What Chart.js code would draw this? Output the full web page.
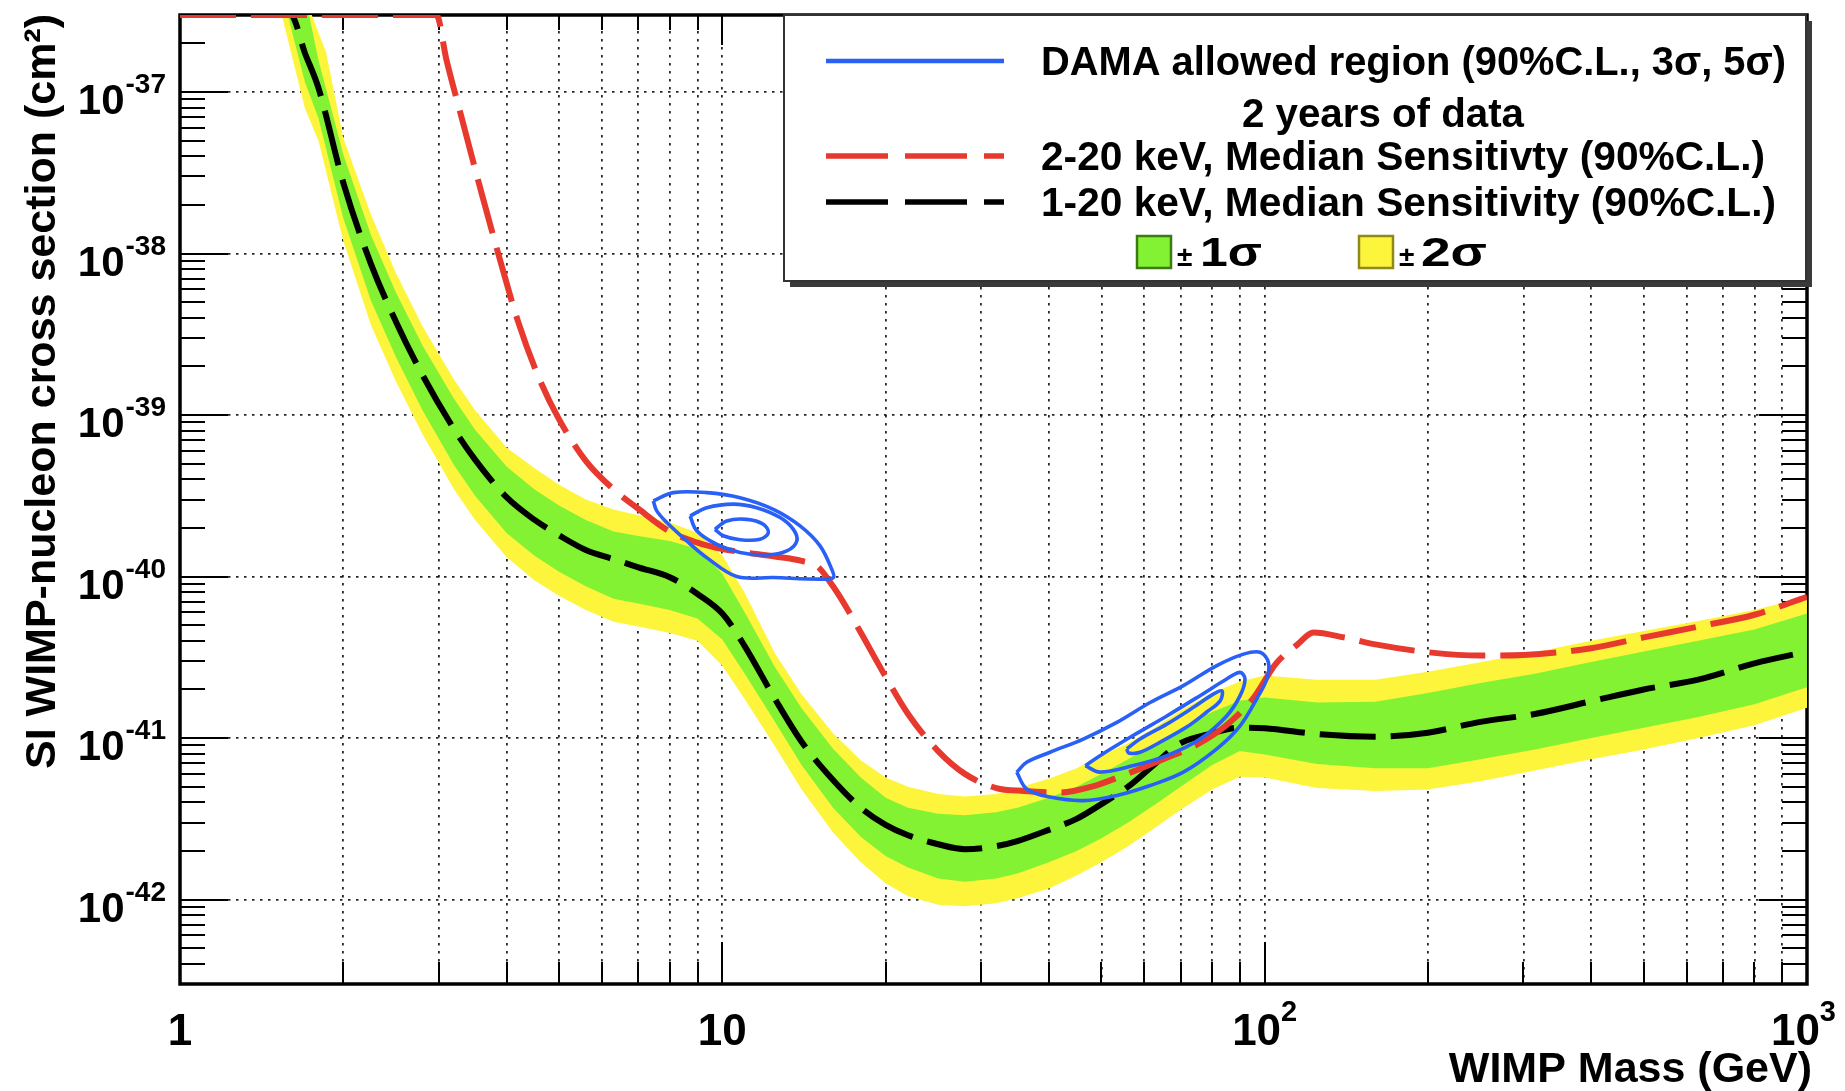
<!DOCTYPE html>
<html>
<head>
<meta charset="utf-8">
<script src="https://cdn.jsdelivr.net/npm/chart.js@4.4.1/dist/chart.umd.min.js"></script>
<style>
html,body{margin:0;padding:0;background:#fff;}
canvas{display:block;}
</style>
</head>
<body>
<canvas id="c" width="1845" height="1091"></canvas>
<script>
// ---------------- DATA (mass in GeV, cross section in cm^2) ----------------
const sens1to20 = [[1,3e-37],[1.6,3e-37],[1.7,1.74e-37],[1.8,1.06e-37],[2.0,2.75e-38],[2.25,8.6e-39],[2.5,3.8e-39],[2.8,1.77e-39],[3.2,8.2e-40],[3.5,5.3e-40],[4.0,3.1e-40],[4.5,2.25e-40],[5.0,1.8e-40],[5.6,1.46e-40],[6.3,1.28e-40],[7.0,1.14e-40],[8.0,9.9e-41],[9.0,7.8e-41],[10,5.9e-41],[11,3.7e-41],[12.5,1.75e-41],[14,9.5e-42],[16,5.5e-42],[18,3.7e-42],[20,2.9e-42],[22,2.5e-42],[25,2.2e-42],[28,2.05e-42],[32,2.14e-42],[35,2.3e-42],[40,2.7e-42],[45,3.16e-42],[50,3.9e-42],[56,5.0e-42],[63,7.0e-42],[70,9.3e-42],[80,1.07e-41],[90,1.16e-41],[100,1.15e-41],[125,1.06e-41],[160,1.02e-41],[200,1.08e-41],[250,1.26e-41],[315,1.41e-41],[400,1.69e-41],[500,2.0e-41],[630,2.3e-41],[800,2.9e-41],[1000,3.43e-41]];

const sens2to20 = [[1,3e-37],[2.97,3e-37],[3.1,1.58e-37],[3.3,7.1e-38],[3.6,2.35e-38],[3.9,8.9e-39],[4.2,3.8e-39],[4.6,1.67e-39],[5.0,9.4e-40],[5.6,5.2e-40],[6.3,3.47e-40],[7.0,2.63e-40],[8.0,1.9e-40],[9.0,1.62e-40],[10,1.48e-40],[11,1.41e-40],[12.5,1.33e-40],[14,1.25e-40],[15,1.15e-40],[16,8.7e-41],[17,6.3e-41],[18,4.5e-41],[20,2.4e-41],[22,1.41e-41],[25,8.3e-42],[28,6.0e-42],[32,4.9e-42],[36,4.7e-42],[42,4.6e-42],[48,5.0e-42],[55,5.9e-42],[65,7.4e-42],[75,9.1e-42],[85,1.2e-41],[95,1.74e-41],[105,2.9e-41],[115,3.8e-41],[123,4.5e-41],[140,4.2e-41],[160,3.8e-41],[200,3.4e-41],[250,3.24e-41],[300,3.27e-41],[400,3.6e-41],[500,4.2e-41],[630,4.9e-41],[800,5.8e-41],[1000,7.5e-41]];

const band2sUpper = [[1.75,3e-37],[1.86,1.75e-37],[2.0,5.2e-38],[2.25,1.74e-38],[2.5,7.6e-39],[2.8,3.55e-39],[3.2,1.66e-39],[3.5,1.07e-39],[4.0,6.3e-40],[4.5,4.7e-40],[5.0,3.7e-40],[5.6,3.0e-40],[6.3,2.6e-40],[7.0,2.4e-40],[8.0,2.16e-40],[9.0,1.86e-40],[10,1.35e-40],[11,7.9e-41],[12.5,3.35e-41],[14,1.87e-41],[16,1.07e-41],[18,7.3e-42],[20,5.7e-42],[22,5.0e-42],[25,4.5e-42],[28,4.35e-42],[32,4.5e-42],[35,4.9e-42],[40,5.6e-42],[45,6.5e-42],[50,7.8e-42],[56,9.3e-42],[63,1.17e-41],[70,1.48e-41],[80,1.9e-41],[90,2.24e-41],[100,2.44e-41],[125,2.3e-41],[160,2.3e-41],[200,2.57e-41],[250,2.95e-41],[315,3.4e-41],[400,4.0e-41],[500,4.6e-41],[630,5.3e-41],[800,6.2e-41],[1000,7.5e-41]];

const band1sUpper = [[1.73,3e-37],[1.8,1.58e-37],[2.0,4.1e-38],[2.25,1.3e-38],[2.5,5.75e-39],[2.8,2.7e-39],[3.2,1.26e-39],[3.5,8.1e-40],[4.0,4.8e-40],[4.5,3.47e-40],[5.0,2.75e-40],[5.6,2.24e-40],[6.3,1.9e-40],[7.0,1.78e-40],[8.0,1.66e-40],[9.0,1.48e-40],[10,1.04e-40],[11,6.0e-41],[12.5,2.75e-41],[14,1.53e-41],[16,8.6e-42],[18,5.7e-42],[20,4.27e-42],[22,3.7e-42],[25,3.4e-42],[28,3.33e-42],[32,3.47e-42],[35,3.7e-42],[40,4.27e-42],[45,5.0e-42],[50,6.0e-42],[56,7.4e-42],[63,9.3e-42],[70,1.15e-41],[80,1.45e-41],[90,1.7e-41],[100,1.78e-41],[125,1.66e-41],[160,1.68e-41],[200,1.9e-41],[250,2.19e-41],[315,2.5e-41],[400,2.96e-41],[500,3.43e-41],[630,4.0e-41],[800,4.7e-41],[1000,5.9e-41]];

const band1sLower = [[1.58,3e-37],[1.7,1.15e-37],[1.8,6.9e-38],[2.0,1.66e-38],[2.25,5.1e-39],[2.5,2.3e-39],[2.8,1.07e-39],[3.2,4.9e-40],[3.5,3.16e-40],[4.0,1.86e-40],[4.5,1.35e-40],[5.0,1.07e-40],[5.6,8.7e-41],[6.3,7.3e-41],[7.0,6.8e-41],[8.0,6.2e-41],[9.0,5.5e-41],[10,4.07e-41],[11,2.5e-41],[12.5,1.26e-41],[14,6.8e-42],[16,3.7e-42],[18,2.45e-42],[20,1.86e-42],[22,1.58e-42],[25,1.35e-42],[28,1.29e-42],[32,1.35e-42],[35,1.45e-42],[40,1.7e-42],[45,2.0e-42],[50,2.4e-42],[56,3.0e-42],[63,3.9e-42],[70,5.0e-42],[80,6.8e-42],[90,8.3e-42],[100,7.9e-42],[125,6.9e-42],[160,6.5e-42],[200,6.5e-42],[250,7.4e-42],[315,8.5e-42],[400,1.0e-41],[500,1.16e-41],[630,1.35e-41],[800,1.62e-41],[1000,2.06e-41]];

const band2sLower = [[1.54,3e-37],[1.7,7.9e-38],[1.8,5.0e-38],[2.0,1.2e-38],[2.25,3.6e-39],[2.5,1.62e-39],[2.8,7.6e-40],[3.2,3.47e-40],[3.5,2.24e-40],[4.0,1.32e-40],[4.5,9.5e-41],[5.0,7.6e-41],[5.6,6.2e-41],[6.3,5.25e-41],[7.0,4.9e-41],[8.0,4.47e-41],[9.0,4.0e-41],[10,2.8e-41],[11,1.74e-41],[12.5,8.9e-42],[14,4.8e-42],[16,2.6e-42],[18,1.7e-42],[20,1.26e-42],[22,1.05e-42],[25,9.3e-43],[28,9.1e-43],[32,9.5e-43],[35,1.02e-42],[40,1.17e-42],[45,1.41e-42],[50,1.7e-42],[56,2.14e-42],[63,2.8e-42],[70,3.6e-42],[80,4.8e-42],[90,5.75e-42],[100,5.7e-42],[125,4.9e-42],[160,4.7e-42],[200,4.8e-42],[250,5.4e-42],[315,6.3e-42],[400,7.4e-42],[500,8.5e-42],[630,1.0e-41],[800,1.2e-41],[1000,1.54e-41]];

// DAMA allowed regions (closed contours): low-mass and high-mass islands
const damaLow5s = [[7.46,2.94e-40],[8.12,3.31e-40],[9.36,3.31e-40],[10.78,3.08e-40],[12.42,2.61e-40],[13.91,2.06e-40],[15.14,1.55e-40],[15.91,1.11e-40],[16.02,9.86e-41],[15.14,9.64e-41],[12.42,9.86e-41],[10.63,1.0e-40],[9.36,1.31e-40],[8.6,1.66e-40],[7.9,2.16e-40],[7.57,2.55e-40],[7.46,2.94e-40]];
const damaLow3s = [[8.72,2.37e-40],[9.36,2.67e-40],[10.48,2.81e-40],[11.57,2.67e-40],[12.78,2.32e-40],[13.52,1.96e-40],[13.72,1.66e-40],[13.15,1.44e-40],[12.08,1.36e-40],[10.78,1.41e-40],[9.77,1.58e-40],[8.97,1.92e-40],[8.72,2.37e-40]];
const damaLow90 = [[9.69,1.96e-40],[10.19,2.21e-40],[11.09,2.26e-40],[11.9,2.11e-40],[12.16,1.87e-40],[11.74,1.70e-40],[10.78,1.69e-40],[10.04,1.79e-40],[9.69,1.96e-40]];
const damaHigh5s = [[34.9,6.15e-42],[36.4,7.08e-42],[40.2,8.17e-42],[46.3,9.86e-42],[53.4,1.25e-41],[61.5,1.66e-41],[70.8,2.11e-41],[81.6,2.81e-41],[91.4,3.31e-41],[98.1,3.40e-41],[101.6,2.94e-41],[100.9,2.32e-41],[96.7,1.75e-41],[90.1,1.19e-41],[81.6,8.57e-42],[70.8,6.15e-42],[61.5,5.08e-42],[53.4,4.41e-42],[46.3,4.10e-42],[40.2,4.31e-42],[36.4,4.84e-42],[34.9,6.15e-42]];
const damaHigh3s = [[46.7,6.75e-42],[49.7,7.78e-42],[57.3,1.04e-41],[66.0,1.37e-41],[76.0,1.83e-41],[85.1,2.32e-41],[90.1,2.55e-41],[92.0,2.32e-41],[90.1,1.83e-41],[85.1,1.37e-41],[76.0,9.86e-42],[66.0,7.78e-42],[57.3,6.75e-42],[49.7,6.15e-42],[46.7,6.75e-42]];
const damaHigh90 = [[55.7,8.57e-42],[58.9,9.86e-42],[66.0,1.22e-41],[73.9,1.55e-41],[80.4,1.87e-41],[83.4,1.96e-41],[82.8,1.70e-41],[78.2,1.45e-41],[71.8,1.17e-41],[64.1,9.42e-42],[58.9,8.17e-42],[56.1,8.09e-42],[55.7,8.57e-42]];

// Axis limits and tick labels
const xRange = [1, 1000];
const yRange = [3e-43, 3e-37];
const xTickLabels = [{v:1, base:'1', exp:''}, {v:10, base:'10', exp:''}, {v:100, base:'10', exp:'2'}, {v:1000, base:'10', exp:'3'}];
const yTickExponents = [-42, -41, -40, -39, -38, -37];

// Legend texts
const legendTexts = {
  dama: 'DAMA allowed region (90%C.L., 3\u03C3, 5\u03C3)',
  dama2: '2 years of data',
  red: '2-20 keV, Median Sensitivty (90%C.L.)',
  black: '1-20 keV, Median Sensitivity (90%C.L.)',
  s1: '1\u03C3',
  s2: '2\u03C3'
};
const xTitle = 'WIMP Mass (GeV)';
const yTitle = 'SI WIMP-nucleon cross section (cm\u00B2)';

// ---------------- STYLE ----------------
const FONT = '"Liberation Sans", Arial, Helvetica, sans-serif';
const C_RED = '#e8392f', C_BLUE = '#2860f8', C_GREEN = '#82f232', C_YELLOW = '#fdf43c';

const toXY = arr => arr.map(p => ({x: p[0], y: p[1]}));
const polygon = (up, lo) => toXY(up.concat(lo.slice().reverse()));

// grid / tick positions (decade multiples)
const xGridValues = [];
for (const d of [1, 10, 100]) for (let k = 1; k <= 9; k++) xGridValues.push(k * d);
xGridValues.push(1000);
const yDecades = yTickExponents.map(e => Number('1e' + e));
const yMinor = [];
for (let e = -43; e <= -37; e++) for (let k = 2; k <= 9; k++) {
  const v = Number(k + 'e' + e);
  if (v >= yRange[0] && v <= yRange[1]) yMinor.push(v);
}
const isDecade = v => Math.abs(Math.log10(v) - Math.round(Math.log10(v))) < 1e-9;

function seg(ctx, x1, y1, x2, y2) { ctx.beginPath(); ctx.moveTo(x1, y1); ctx.lineTo(x2, y2); ctx.stroke(); }
function fitText(ctx, txt, x, yb, w, size, align) {
  ctx.font = 'bold ' + size + 'px ' + FONT;
  const m = ctx.measureText(txt).width;
  const s = w / m;
  ctx.save(); ctx.translate(x, yb); ctx.scale(s, 1); ctx.textAlign = align; ctx.textBaseline = 'alphabetic';
  ctx.fillText(txt, 0, 0); ctx.restore();
}

const rootPlugin = {
  id: 'rootStyle',
  beforeDatasetsDraw(chart) {
    const {ctx, chartArea: a, scales: {x, y}} = chart;
    ctx.save();
    ctx.strokeStyle = '#000';
    ctx.lineWidth = 2;
    xGridValues.forEach(v => {
      const px = Math.round(x.getPixelForValue(v)) ;
      if (px <= a.left + 1 || px >= a.right - 1) return;
      const M = isDecade(v);
      seg(ctx, px, a.bottom, px, a.bottom - (M ? 42 : 22));
      seg(ctx, px, a.top, px, a.top + (M ? 30 : 15));
    });
    yDecades.concat(yMinor).forEach(v => {
      const py = Math.round(y.getPixelForValue(v));
      const M = isDecade(v);
      seg(ctx, a.left, py, a.left + (M ? 48 : 25), py);
      seg(ctx, a.right, py, a.right - (M ? 48 : 25), py);
    });
    ctx.lineWidth = 3.5;
    ctx.strokeRect(a.left, a.top, a.right - a.left, a.bottom - a.top);
    ctx.restore();
  },
  afterDraw(chart) {
    const {ctx, chartArea: a, scales: {x, y}} = chart;
    ctx.save();
    ctx.fillStyle = '#000';
    ctx.textBaseline = 'alphabetic';
    // y tick labels
    yTickExponents.forEach(e => {
      const py = y.getPixelForValue(Number('1e' + e));
      const expTxt = String(e);
      ctx.font = 'bold 28px ' + FONT;
      const ew = ctx.measureText(expTxt).width;
      ctx.textAlign = 'left';
      ctx.fillText(expTxt, 166 - ew, py + 1);
      ctx.font = 'bold 42px ' + FONT;
      ctx.textAlign = 'right';
      ctx.fillText('10', 166 - ew - 1, py + 22);
    });
    // x tick labels
    xTickLabels.forEach(t => {
      const px = x.getPixelForValue(t.v);
      ctx.font = 'bold 44px ' + FONT;
      const bw = ctx.measureText(t.base).width;
      ctx.font = 'bold 29px ' + FONT;
      const ew = t.exp ? ctx.measureText(t.exp).width : 0;
      let left = px - (bw + ew) / 2;
      if (left + bw + ew > 1836) left = 1836 - bw - ew;
      ctx.textAlign = 'left';
      ctx.font = 'bold 44px ' + FONT;
      ctx.fillText(t.base, left, 1045);
      if (t.exp) { ctx.font = 'bold 29px ' + FONT; ctx.fillText(t.exp, left + bw, 1021); }
    });
    // axis titles
    ctx.font = 'bold 43px ' + FONT;
    ctx.textAlign = 'right';
    ctx.fillText(xTitle, 1812, 1082);
    ctx.save();
    ctx.translate(55, 14);
    ctx.rotate(-Math.PI / 2);
    ctx.textAlign = 'right';
    ctx.font = 'bold 43px ' + FONT;
    ctx.fillText(yTitle, 0, 0);
    ctx.restore();

    // legend
    const L = 784, T = 15, R = 1806, B = 281;
    ctx.fillStyle = '#3a3a3a';
    ctx.fillRect(L + 6, T + 6, R - L, B - T);
    ctx.fillStyle = '#fff';
    ctx.fillRect(L, T, R - L, B - T);
    ctx.strokeStyle = '#333'; ctx.lineWidth = 2;
    ctx.strokeRect(L, T, R - L, B - T);
    // line samples
    ctx.lineCap = 'butt';
    ctx.strokeStyle = C_BLUE; ctx.lineWidth = 4.5; ctx.setLineDash([]);
    seg(ctx, 826, 61, 1004, 61);
    ctx.strokeStyle = C_RED; ctx.lineWidth = 5.5; ctx.setLineDash([62, 17]);
    seg(ctx, 826, 156, 1004, 156);
    ctx.strokeStyle = '#000'; ctx.setLineDash([62, 17]);
    seg(ctx, 826, 202, 1004, 202);
    ctx.setLineDash([]);
    ctx.fillStyle = '#000';
    fitText(ctx, legendTexts.dama, 1041, 61 + 14, 745, 41, 'left');
    fitText(ctx, legendTexts.dama2, 1383, 113 + 14, 282, 41, 'center');
    fitText(ctx, legendTexts.red, 1041, 156 + 14, 724, 41, 'left');
    fitText(ctx, legendTexts.black, 1041, 202 + 14, 735, 41, 'left');
    // band boxes
    ctx.lineWidth = 2.5;
    ctx.fillStyle = C_GREEN; ctx.strokeStyle = '#3c7a12';
    ctx.fillRect(1137, 236, 34, 32); ctx.strokeRect(1137, 236, 34, 32);
    ctx.fillStyle = C_YELLOW; ctx.strokeStyle = '#8f8a18';
    ctx.fillRect(1359, 236, 34, 32); ctx.strokeRect(1359, 236, 34, 32);
    ctx.fillStyle = '#000';
    ctx.textAlign = 'left';
    ctx.font = 'bold 28px ' + FONT;
    ctx.fillText('\u00B1', 1177, 266);
    ctx.fillText('\u00B1', 1399, 266);
    fitText(ctx, legendTexts.s1, 1200, 266, 62, 41, 'left');
    fitText(ctx, legendTexts.s2, 1421, 266, 66, 41, 'left');
    ctx.restore();
  }
};

function lineDS(label, arr, color, width, dash, order, extra) {
  return Object.assign({
    label, data: toXY(arr), showLine: true, borderColor: color, borderWidth: width,
    borderDash: dash, pointRadius: 0, pointHoverRadius: 0, fill: false, order
  }, extra || {});
}

function draw() {
  const ctx = document.getElementById('c').getContext('2d');
  const contourOpts = {tension: 0.35};
  new Chart(ctx, {
    type: 'scatter',
    data: {
      datasets: [
        lineDS('DAMA 90% high', damaHigh90, C_BLUE, 3.6, [], 1, contourOpts),
        lineDS('DAMA 3s high', damaHigh3s, C_BLUE, 3.6, [], 1, contourOpts),
        lineDS('DAMA 5s high', damaHigh5s, C_BLUE, 3.6, [], 1, contourOpts),
        lineDS('DAMA 90% low', damaLow90, C_BLUE, 3.6, [], 1, contourOpts),
        lineDS('DAMA 3s low', damaLow3s, C_BLUE, 3.6, [], 1, contourOpts),
        lineDS('DAMA 5s low', damaLow5s, C_BLUE, 3.6, [], 1, contourOpts),
        lineDS('2-20 keV', sens2to20, C_RED, 6, [56, 15], 2, {cubicInterpolationMode: 'monotone'}),
        lineDS('1-20 keV', sens1to20, '#000', 6, [56, 15], 3, {cubicInterpolationMode: 'monotone'}),
        {label: '1 sigma', data: polygon(band1sUpper, band1sLower), showLine: true, borderWidth: 0,
         borderColor: C_GREEN, backgroundColor: C_GREEN, fill: 'shape', pointRadius: 0, order: 4},
        {label: '2 sigma', data: polygon(band2sUpper, band2sLower), showLine: true, borderWidth: 0,
         borderColor: C_YELLOW, backgroundColor: C_YELLOW, fill: 'shape', pointRadius: 0, order: 5}
      ]
    },
    options: {
      responsive: false,
      animation: false,
      devicePixelRatio: 1,
      layout: {padding: {left: 0, right: 38, top: 15, bottom: 0}},
      plugins: {legend: {display: false}, tooltip: {enabled: false}},
      events: [],
      scales: {
        x: {
          type: 'logarithmic', min: xRange[0], max: xRange[1], position: 'bottom',
          ticks: {display: false, autoSkip: false},
          grid: {color: 'rgba(0,0,0,0.85)', lineWidth: 1.8, drawTicks: false},
          border: {display: false, dash: [2.5, 5.5]},
          afterBuildTicks: s => { s.ticks = xGridValues.map(v => ({value: v})); },
          afterFit: s => { s.height = 107; }
        },
        y: {
          type: 'logarithmic', min: yRange[0], max: yRange[1], position: 'left',
          ticks: {display: false, autoSkip: false},
          grid: {color: 'rgba(0,0,0,0.85)', lineWidth: 1.8, drawTicks: false},
          border: {display: false, dash: [2.5, 5.5]},
          afterBuildTicks: s => { s.ticks = yDecades.map(v => ({value: v})); },
          afterFit: s => { s.width = 180; }
        }
      }
    },
    plugins: [rootPlugin]
  });
}

if (document.fonts && document.fonts.load) {
  Promise.all([document.fonts.load('bold 40px "Liberation Sans"')]).then(draw, draw);
} else { draw(); }
</script>
</body>
</html>
